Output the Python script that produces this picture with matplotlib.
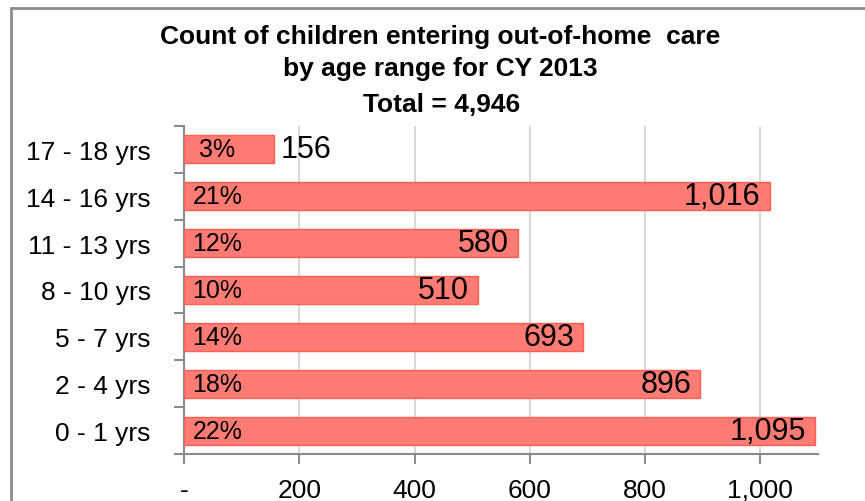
import matplotlib.pyplot as plt
from matplotlib.lines import Line2D

# data
ages = ['0 - 1 yrs', '2 - 4 yrs', '5 - 7 yrs', '8 - 10 yrs', '11 - 13 yrs', '14 - 16 yrs', '17 - 18 yrs']
counts = [1095, 896, 693, 510, 580, 1016, 156]
pcts = ['22%', '18%', '14%', '10%', '12%', '21%', '3%']
xticks = [0, 200, 400, 600, 800, 1000]
xticklabels = ['-', '200', '400', '600', '800', '1,000']

plt.rcParams['font.family'] = ['Liberation Sans', 'DejaVu Sans']

fig = plt.figure(figsize=(8.65, 5.02), dpi=100)
ax = fig.add_axes([184/865, 1-455/502, (818-184)/865, (455-127)/502])

# chart border (top and left edges visible)
border = Line2D([11/865, 11/865, 1.0], [0.0, 1-9/502, 1-9/502], transform=fig.transFigure,
                color='#8c8c8c', linewidth=2, solid_joinstyle='miter')
fig.add_artist(border)

y = list(range(len(ages)))
ax.barh(y, counts, height=0.6, color='#FF7B73', edgecolor='#FF5E56', linewidth=1, zorder=3)

ax.set_xlim(0, 1100)
ax.set_ylim(-0.5, len(ages) - 0.5)

# value and percent labels
for i in y:
    ax.text(58, i, pcts[i], ha='center', va='center', fontsize=18, zorder=4)
    if counts[i] < 300:
        ax.annotate(f'{counts[i]:,}', (counts[i], i), xytext=(5, 0), textcoords='offset points',
                    ha='left', va='center', fontsize=22, zorder=4)
    else:
        ax.annotate(f'{counts[i]:,}', (counts[i], i), xytext=(-6.5, 0), textcoords='offset points',
                    ha='right', va='center', fontsize=22, zorder=4)

# axes styling
ax.set_xticks(xticks)
ax.set_xticklabels(xticklabels, fontsize=19)
ax.set_yticks([v - 0.5 for v in range(len(ages) + 1)], minor=False)
ax.set_yticklabels([])
ax.set_yticks(y, minor=True)
ax.set_yticklabels(ages, minor=True, fontsize=19)
ax.tick_params(axis='y', which='minor', length=0, pad=24)
ax.tick_params(axis='y', which='major', length=7, color='#8c8c8c', width=1.5)
ax.tick_params(axis='x', length=7, color='#8c8c8c', width=1.5, pad=10)
ax.grid(axis='x', color='#d9d9d9', linewidth=1.5, zorder=0)
for s in ['top', 'right']:
    ax.spines[s].set_visible(False)
for s in ['left', 'bottom']:
    ax.spines[s].set_color('#8c8c8c')
    ax.spines[s].set_linewidth(1.5)

# titles
fig.text(440/865, 1-37/502, 'Count of children entering out-of-home  care', ha='center', va='center',
         fontsize=19, fontweight='bold')
fig.text(440/865, 1-69/502, 'by age range for CY 2013', ha='center', va='center',
         fontsize=19, fontweight='bold')
fig.text(442/865, 1-105/502, 'Total = 4,946', ha='center', va='center',
         fontsize=19, fontweight='bold')

plt.savefig('out.png', dpi=100)
